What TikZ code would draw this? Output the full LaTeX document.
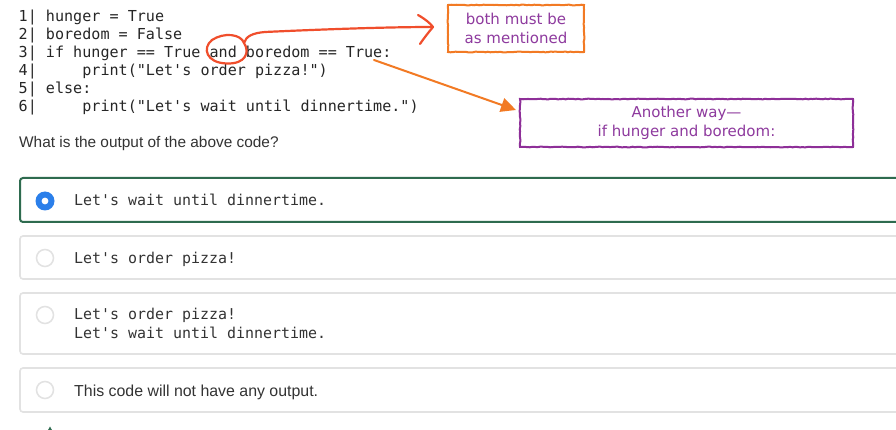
\documentclass[tikz,border=0pt]{standalone}
\usepackage{fontspec}
\setmainfont{Liberation Sans}
\setmonofont{DejaVu Sans Mono}
\newfontfamily\annotfont{DejaVu Sans}
\usetikzlibrary{arrows.meta,decorations.pathmorphing}
\definecolor{codegray}{HTML}{262626}
\definecolor{anstext}{HTML}{333333}
\definecolor{selgreen}{HTML}{2E6B4F}
\definecolor{boxgray}{HTML}{E2E2E2}
\definecolor{radioblue}{HTML}{2B7FEA}
\definecolor{annorange}{HTML}{F27A24}
\definecolor{annred}{HTML}{F04E2C}
\definecolor{annpurple}{HTML}{8E2F98}
\definecolor{purpletext}{HTML}{8E3A9E}
\tikzset{
  codeline/.style={anchor=base west, inner sep=0pt, text=codegray,
    font=\ttfamily\fontsize{15.1}{18}\selectfont},
  question/.style={anchor=base west, inner sep=0pt, text=anstext,
    font=\fontsize{15.4}{18}\selectfont},
  anstt/.style={anchor=base west, inner sep=0pt, text=anstext,
    font=\ttfamily\fontsize{14.95}{19}\selectfont, align=left},
  anssf/.style={anchor=base west, inner sep=0pt, text=anstext,
    font=\fontsize{15.9}{18}\selectfont},
  choicebox/.style={draw=boxgray, line width=1.6pt, rounded corners=3pt},
  selbox/.style={draw=selgreen, line width=2pt, rounded corners=3pt},
  radiooff/.style={circle, draw=boxgray, line width=1.5pt, fill=white,
    minimum size=17pt, inner sep=0pt},
  radioon/.style={circle, fill=radioblue, minimum size=19pt, inner sep=0pt},
  rough/.style={decorate, decoration={random steps, segment length=2.5pt, amplitude=0.35pt}},
  orangenote/.style={draw=annorange, line width=2pt, rough, text=purpletext,
    font=\annotfont\fontsize{15}{19}\selectfont, align=center,
    minimum width=136pt, minimum height=47pt, inner sep=0pt},
  purplenote/.style={draw=annpurple, line width=2pt, rough, text=purpletext,
    font=\annotfont\fontsize{15}{18.5}\selectfont, align=center,
    minimum width=333pt, minimum height=48pt, inner sep=0pt},
  redpen/.style={draw=annred, line width=2.2pt, line cap=round, line join=round},
  orangepen/.style={draw=annorange, line width=2pt, line cap=round},
}
\begin{document}
\begin{tikzpicture}[x=1pt,y=-1pt]
\useasboundingbox (0,0) rectangle (896,430);
\clip (0,0) rectangle (896,430);
\fill[white] (0,0) rectangle (896,430);

% code
\node[codeline] (c1) at (18.5,22) {1|\ hunger\ =\ True};
\node[codeline] (c2) at (18.5,40) {2|\ boredom\ =\ False};
\node[codeline] (c3) at (18.5,58) {3|\ if\ hunger\ ==\ True\ and\ boredom\ ==\ True:};
\node[codeline] (c4) at (18.5,76) {4|\ \ \ \ \ print("Let's\ order\ pizza!")};
\node[codeline] (c5) at (18.5,94) {5|\ else:};
\node[codeline] (c6) at (18.5,112) {6|\ \ \ \ \ print("Let's\ wait\ until\ dinnertime.")};

\node[question] (q) at (19,148) {What is the output of the above code?};

% choices
\draw[selbox] (20,178) rectangle (910,222);
\node[radioon] (r1) at (45,201) {};
\fill[white] (r1.center) circle (3.4);
\node[anstt] (a1) at (74,206) {Let's\ wait\ until\ dinnertime.};

\draw[choicebox] (20,236) rectangle (910,279);
\node[radiooff] (r2) at (45,258) {};
\node[anstt] (a2) at (74,263) {Let's\ order\ pizza!};

\draw[choicebox] (20,293) rectangle (910,354);
\node[radiooff] (r3) at (45,315) {};
\node[anstt] (a3) at (74,338.5) {Let's\ order\ pizza!\\Let's\ wait\ until\ dinnertime.};

\draw[choicebox] (20,368) rectangle (910,412);
\node[radiooff] (r4) at (45,390) {};
\node[anssf] (a4) at (74,396) {This code will not have any output.};

% partial icon at the bottom edge
\fill[selgreen] (47.5,431) -- (50,426.5) -- (52.5,431) -- cycle;

% annotations
\node[orangenote] (both) at (516,28.5) {both must be\\as mentioned};
\node[purplenote] (other) at (686.5,123) {Another way—\\if hunger and boredom:};

% red loop around "and" with arrow towards the orange note
\coordinate (andloop) at (244,43);
\coordinate (redtip) at (433,27);
\draw[redpen] (andloop) .. controls (241,34) and (224,32) .. (212,40)
  .. controls (202,48) and (206,63) .. (227,63.5)
  .. controls (246,64) and (250,52) .. (andloop)
  .. controls (246,36) and (253,33) .. (265,32)
  .. controls (330,29) and (390,27) .. (redtip);
\draw[redpen] (418,15) .. controls (425,19) and (430,23) .. (redtip)
  .. controls (428,33) and (424,38) .. (420,44);

% orange arrow from the condition to the purple note
\coordinate (condend) at (374,60);
\coordinate (orangetip) at (516,110);
\draw[orangepen, -{Triangle[length=15pt,width=14pt]}] (condend) -- (orangetip);
\end{tikzpicture}
\end{document}
